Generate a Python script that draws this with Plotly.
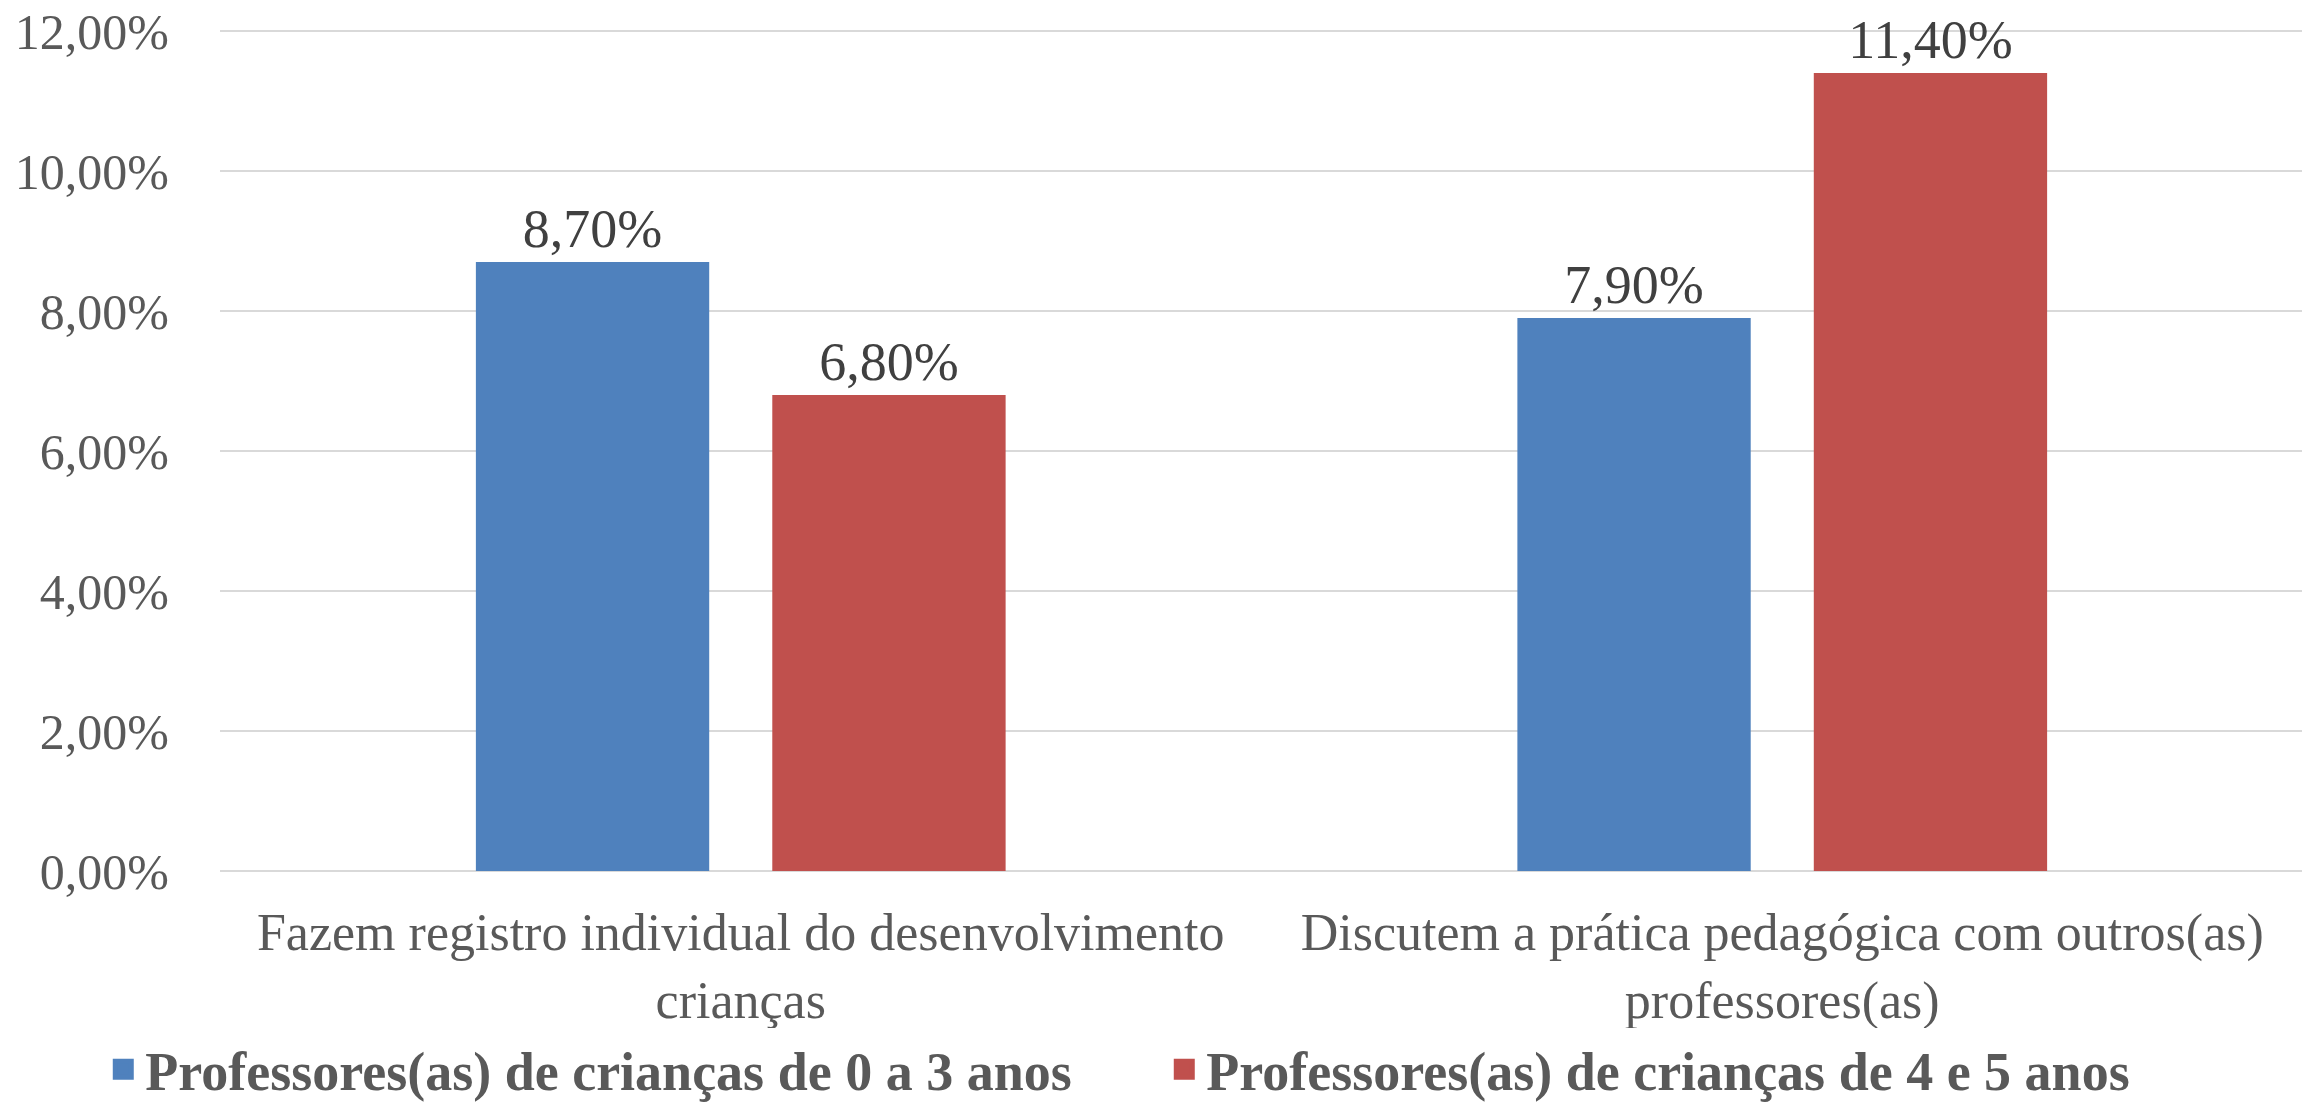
import plotly.graph_objects as go

categories = ["Fazem registro individual do desenvolvimento<br>crianças",
              "Discutem a prática pedagógica com outros(as)<br>professores(as)"]
series_names = ["Professores(as) de crianças de 0 a 3 anos",
                "Professores(as) de crianças de 4 e 5 anos"]
values_0a3 = [0.087, 0.079]
values_4e5 = [0.068, 0.114]
y_ticks = [0, 0.02, 0.04, 0.06, 0.08, 0.10, 0.12]

colors = ["#4F81BD", "#C0504D"]
FONT = "Liberation Serif"

fig = go.Figure()
for name, vals, col in zip(series_names, [values_0a3, values_4e5], colors):
    fig.add_trace(go.Bar(
        x=categories, y=vals, name=name, showlegend=False,
        marker=dict(color=col, line=dict(width=0)),
        texttemplate="%{y:.2%}", textposition="outside",
        textfont=dict(family=FONT, size=54, color="#404040"),
        cliponaxis=False,
    ))
# legend entries (square swatches)
for name, col in zip(series_names, colors):
    fig.add_trace(go.Scatter(
        x=[None], y=[None], mode="markers", name=name,
        marker=dict(symbol="square", size=16, color=col, line=dict(color=col, width=5)),
    ))

fig.update_layout(
    width=2302, height=1098,
    margin=dict(l=212, r=7, t=21, b=235, autoexpand=False),
    paper_bgcolor="white", plot_bgcolor="white",
    separators=",.",
    barmode="group", bargap=0.4308, bargroupgap=0.2128,
    showlegend=True,
    legend=dict(orientation="h", x=-0.057, xanchor="left", y=-0.236, yanchor="middle",
                font=dict(family=FONT, size=54, color="#595959", weight=700),
                itemsizing="trace", itemwidth=34, entrywidth=1012, tracegroupgap=0),
    font=dict(family=FONT, color="#595959"),
)
fig.update_yaxes(range=[0, 0.1203], tickvals=y_ticks, tickformat=".2%", automargin=False,
                 showgrid=True, gridcolor="#D9D9D9", gridwidth=2,
                 zeroline=True, zerolinecolor="#D9D9D9", zerolinewidth=2,
                 showline=False, ticks="",
                 ticklabelstandoff=50, ticklabeloverflow="allow",
                 tickfont=dict(family=FONT, size=50, color="#595959"))
fig.update_xaxes(range=[-0.5, 1.5], automargin=False,
                 showgrid=False, showline=False, ticks="", zeroline=False,
                 ticklabelstandoff=26,
                 tickfont=dict(family=FONT, size=52, color="#595959"))

fig.write_html("out.html")
